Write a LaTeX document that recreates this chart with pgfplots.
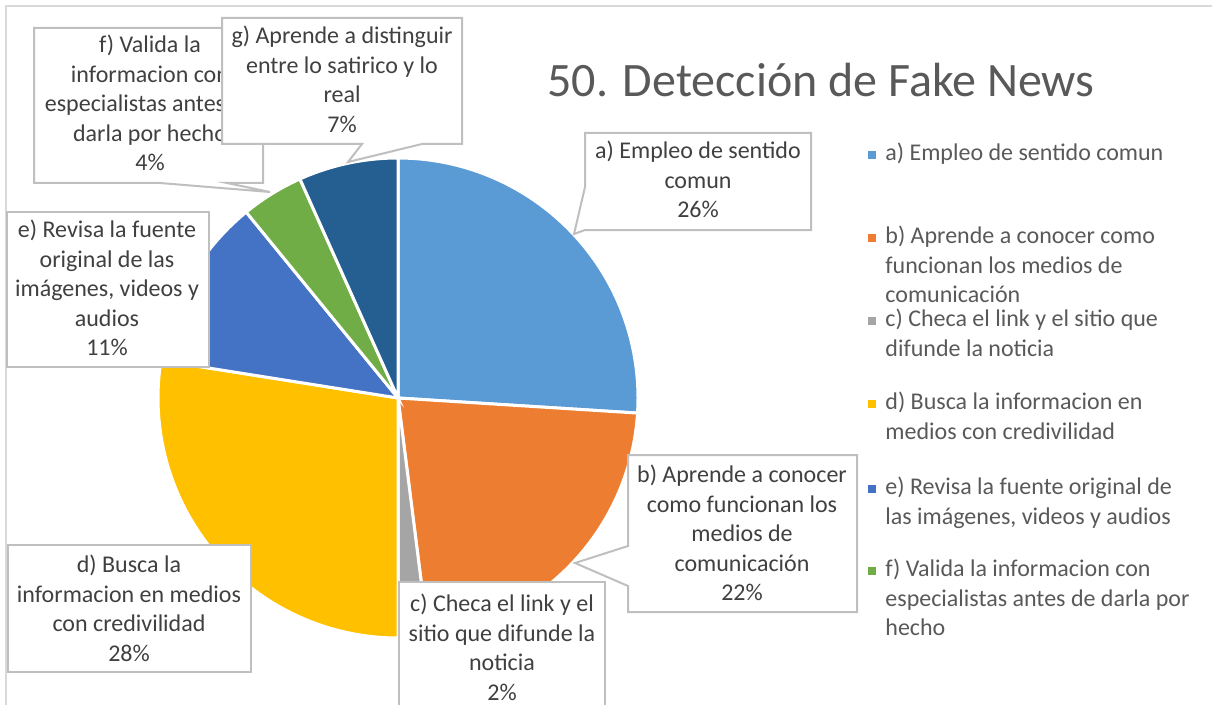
\documentclass[border=0pt]{standalone}
\usepackage{pgfplots}
\pgfplotsset{compat=1.18}
\usepackage{fontspec}
\setmainfont{Carlito}
\definecolor{cA}{HTML}{5B9BD5}
\definecolor{cB}{HTML}{ED7D31}
\definecolor{cC}{HTML}{A5A5A5}
\definecolor{cD}{HTML}{FFC000}
\definecolor{cE}{HTML}{4472C4}
\definecolor{cF}{HTML}{70AD47}
\definecolor{cG}{HTML}{255E91}
\definecolor{boxgray}{HTML}{BFBFBF}
\definecolor{labtext}{HTML}{404040}
\definecolor{legtext}{HTML}{595959}
\definecolor{framegray}{HTML}{D9D9D9}
\begin{document}
\begin{tikzpicture}
\path[use as bounding box, clip] (0,0) rectangle (606.5pt,352.5pt);
\begin{axis}[
  scale only axis, width=606.5pt, height=352.5pt,
  xmin=0, xmax=1213, ymin=0, ymax=705, y dir=reverse,
  hide axis, clip=false,
]
% frame
\draw[framegray, line width=1pt] (axis cs:6,720) -- (axis cs:6,6) -- (axis cs:1212,6);
% pie slices (percentages: a 26.0, b 22.0, c 2.0, d 27.5, e 11.6, f 4.2, g 6.7), clockwise from 12 o'clock
\addplot[fill=cA, draw=white, line width=1.5pt, domain=-3.6:90, samples=80, variable=\t] ({398+240*cos(\t)}, {398-240*sin(\t)}) -- (axis cs:398,398) -- cycle;
\addplot[fill=cB, draw=white, line width=1.5pt, domain=-82.8:-3.6, samples=70, variable=\t] ({398+240*cos(\t)}, {398-240*sin(\t)}) -- (axis cs:398,398) -- cycle;
\addplot[fill=cC, draw=white, line width=1.5pt, domain=-90:-82.8, samples=10, variable=\t] ({398+240*cos(\t)}, {398-240*sin(\t)}) -- (axis cs:398,398) -- cycle;
\addplot[fill=cD, draw=white, line width=1.5pt, domain=-189:-90, samples=80, variable=\t] ({398+240*cos(\t)}, {398-240*sin(\t)}) -- (axis cs:398,398) -- cycle;
\addplot[fill=cE, draw=white, line width=1.5pt, domain=-230.76:-189, samples=40, variable=\t] ({398+240*cos(\t)}, {398-240*sin(\t)}) -- (axis cs:398,398) -- cycle;
\addplot[fill=cF, draw=white, line width=1.5pt, domain=-245.88:-230.76, samples=20, variable=\t] ({398+240*cos(\t)}, {398-240*sin(\t)}) -- (axis cs:398,398) -- cycle;
\addplot[fill=cG, draw=white, line width=1.5pt, domain=-270:-245.88, samples=25, variable=\t] ({398+240*cos(\t)}, {398-240*sin(\t)}) -- (axis cs:398,398) -- cycle;

% title
\node[legtext, font=\fontsize{24}{28}\selectfont, anchor=base] at (axis cs:821,97) {50. Detección de Fake News};

% label boxes
\tikzset{lbox/.style={fill=white, draw=boxgray, line width=1pt, line join=miter}}
\tikzset{ltxt/.style={labtext, align=center, anchor=north, inner sep=0pt, font=\fontsize{12}{14.7}\selectfont}}
% a
\draw[lbox] (axis cs:585,133) -- (axis cs:811,133) -- (axis cs:811,230) -- (axis cs:585,230) -- (axis cs:574,234) -- (axis cs:585,187) -- cycle;
\node[ltxt] at (axis cs:698,138) {\strut a) Empleo de sentido\\comun\\26\%};
% b
\draw[lbox] (axis cs:628,455) -- (axis cs:857,455) -- (axis cs:857,612) -- (axis cs:628,612) -- (axis cs:628,586) -- (axis cs:575,563) -- (axis cs:628,546) -- cycle;
\node[ltxt] at (axis cs:742,462) {\strut b) Aprende a conocer\\como funcionan los\\medios de\\comunicación\\22\%};
% c
\draw[lbox] (axis cs:399,582) -- (axis cs:605,582) -- (axis cs:605,730) -- (axis cs:399,730) -- cycle;
\node[ltxt] at (axis cs:502,591) {\strut c) Checa el link y el\\sitio que difunde la\\noticia\\2\%};
% d
\draw[lbox] (axis cs:8,545) -- (axis cs:251,545) -- (axis cs:251,672) -- (axis cs:8,672) -- cycle;
\node[ltxt] at (axis cs:129,552) {\strut d) Busca la\\informacion en medios\\con credivilidad\\28\%};
% e
\draw[lbox] (axis cs:7,212) -- (axis cs:209,212) -- (axis cs:209,367) -- (axis cs:7,367) -- cycle;
\node[ltxt] at (axis cs:107,217) {\strut e) Revisa la fuente\\original de las\\imágenes, videos y\\audios\\11\%};
% f
\draw[lbox] (axis cs:34,28) -- (axis cs:263,28) -- (axis cs:263,183) -- (axis cs:227,183) -- (axis cs:270,192) -- (axis cs:160,183) -- (axis cs:34,183) -- cycle;
\node[ltxt] at (axis cs:150,32) {\strut f) Valida la\\informacion con\\especialistas antes de\\darla por hecho\\4\%};
% g
\draw[lbox] (axis cs:222,18) -- (axis cs:462,18) -- (axis cs:462,144) -- (axis cs:422,144) -- (axis cs:348,162) -- (axis cs:362,144) -- (axis cs:222,144) -- cycle;
\node[ltxt] at (axis cs:342,23) {\strut g) Aprende a distinguir\\entre lo satirico y lo\\real\\7\%};

% legend
\tikzset{ltx/.style={legtext, align=left, anchor=north west, inner sep=0pt, font=\fontsize{12}{14.7}\selectfont}}
\fill[cA] (axis cs:868,151) rectangle (axis cs:876,159);
\node[ltx] at (axis cs:885,140) {\strut a) Empleo de sentido comun};
\fill[cB] (axis cs:868,234) rectangle (axis cs:876,242);
\node[ltx] at (axis cs:885,223) {\strut b) Aprende a conocer como\\funcionan los medios de\\comunicación};
\fill[cC] (axis cs:868,317) rectangle (axis cs:876,325);
\node[ltx] at (axis cs:885,306) {\strut c) Checa el link y el sitio que\\difunde la noticia};
\fill[cD] (axis cs:868,400) rectangle (axis cs:876,408);
\node[ltx] at (axis cs:885,389) {\strut d) Busca la informacion en\\medios con credivilidad};
\fill[cE] (axis cs:868,485) rectangle (axis cs:876,493);
\node[ltx] at (axis cs:885,474) {\strut e) Revisa la fuente original de\\las imágenes, videos y audios};
\fill[cF] (axis cs:868,567) rectangle (axis cs:876,575);
\node[ltx] at (axis cs:885,556) {\strut f) Valida la informacion con\\especialistas antes de darla por\\hecho};
\end{axis}
\end{tikzpicture}
\end{document}
